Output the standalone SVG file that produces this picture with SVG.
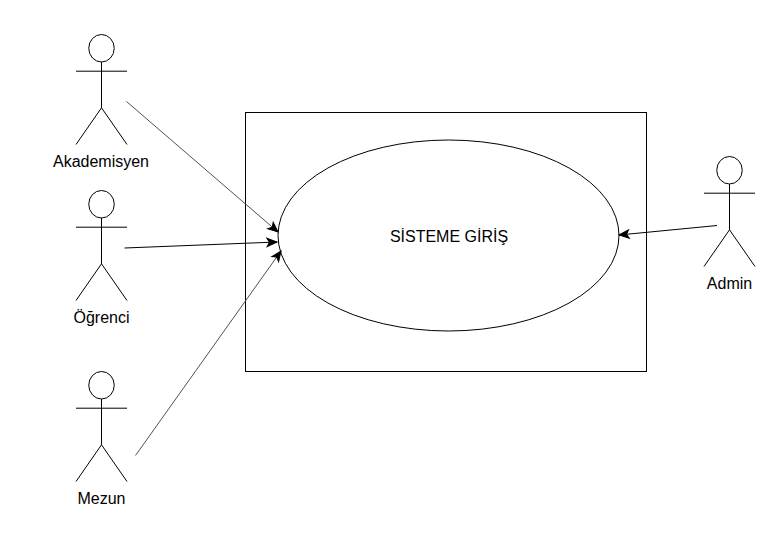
<svg xmlns="http://www.w3.org/2000/svg" width="778" height="544" viewBox="0 0 778 544">
<style>
.s{fill:none;stroke:#000;stroke-width:1}
.w{fill:#fff;stroke:#000;stroke-width:1}
.c{fill:none;stroke:#000;stroke-width:1;marker-end:url(#a)}
.g{stroke:#505050}
text{font-family:"Liberation Sans",Arial,sans-serif;font-size:16px;fill:#000;text-anchor:middle}
</style>
<defs>
<marker id="a" markerUnits="userSpaceOnUse" markerWidth="12" markerHeight="12" refX="10" refY="5" orient="auto" viewBox="0 0 12 10" overflow="visible"><path d="M0 0.8L10 5L0 9.2L2.5 5Z" fill="#000" stroke="#000" stroke-width="1"/></marker>
<g id="actor"><ellipse class="s" cx="0" cy="13.75" rx="12.75" ry="13.75"/><path class="s" d="M0 27.5V73.3M-25.5 36.7H25.5M-25.5 110L0 73.3L25.5 110"/></g>
</defs>
<g id="system"><rect class="w" x="245.5" y="112.5" width="401" height="259"/></g>
<g id="usecase"><ellipse class="w" cx="448.5" cy="235.5" rx="170.5" ry="95.5"/><text x="449" y="241.5">SİSTEME GİRİŞ</text></g>
<g id="akademisyen"><use href="#actor" x="101.5" y="34.5"/><text x="101" y="166.5">Akademisyen</text></g>
<g id="ogrenci"><use href="#actor" x="101.5" y="190.5"/><text x="101.5" y="322.5">Öğrenci</text></g>
<g id="mezun"><use href="#actor" x="101.5" y="371.5"/><text x="101.5" y="503.5">Mezun</text></g>
<g id="admin"><use href="#actor" x="729.5" y="156.5"/><text x="729.5" y="288.5">Admin</text></g>
<g id="connectors">
<path class="c g" d="M126.5 101.5L278 232"/>
<path class="c" d="M124.5 248L277 242"/>
<path class="c g" d="M135.5 455.5L281 251"/>
<path class="c" d="M717 225.5L619 235"/>
</g>
</svg>
